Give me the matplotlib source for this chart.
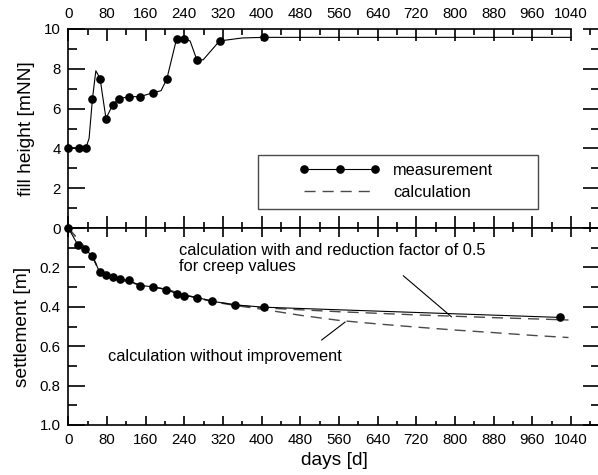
import matplotlib
matplotlib.use("Agg")
import matplotlib.pyplot as plt
from matplotlib.ticker import MultipleLocator, FixedLocator, FixedFormatter
from matplotlib.patches import Rectangle

plt.rcParams['font.family'] = ['Liberation Sans', 'DejaVu Sans']

# fill height, measured points
fill_days = [0, 22, 36, 50, 66, 78, 92, 105, 126, 148, 176, 204, 224, 240, 266, 313, 404]
fill_vals = [4.0, 4.0, 4.0, 6.5, 7.5, 5.5, 6.2, 6.5, 6.6, 6.6, 6.8, 7.5, 9.5, 9.5, 8.45, 9.4, 9.6]
# fill height, drawn line
fill_line_days = [0, 36, 43, 50, 57, 66, 70, 78, 92, 105, 126, 148, 176, 192, 204, 214,
                  224, 240, 252, 266, 279, 313, 360, 404, 1040]
fill_line_vals = [4.0, 4.0, 4.5, 6.5, 7.9, 7.5, 6.8, 5.5, 6.2, 6.5, 6.6, 6.6, 6.8, 6.9, 7.5, 8.5,
                  9.5, 9.5, 9.4, 8.45, 8.45, 9.4, 9.55, 9.58, 9.58]

# settlement, measured
settle_days = [0, 20, 35, 50, 65, 78, 92, 106, 125, 148, 175, 203, 225, 240, 267, 298, 344, 404, 1018]
settle_vals = [0, 0.087, 0.108, 0.144, 0.224, 0.238, 0.25, 0.26, 0.266, 0.292, 0.298, 0.313,
               0.334, 0.343, 0.353, 0.372, 0.39, 0.402, 0.454]

# calculations
calc_days = [0, 50, 65, 100, 150, 200, 250, 300, 350, 400, 480, 560, 640, 720, 800, 880, 960, 1035]
calc_red_vals = [0, 0.144, 0.224, 0.257, 0.29, 0.31, 0.345, 0.372, 0.392, 0.405, 0.415, 0.425,
                 0.433, 0.441, 0.448, 0.455, 0.461, 0.467]
calc_none_vals = [0, 0.144, 0.224, 0.257, 0.29, 0.31, 0.345, 0.375, 0.395, 0.412, 0.443, 0.469,
                  0.487, 0.503, 0.518, 0.531, 0.545, 0.556]

# annotation texts and leaders (days, settlement)
note_red = "calculation with and reduction factor of 0.5\nfor creep values"
note_red_xy = (229, 0.156)
lead_red = [(693, 0.242), (793, 0.451)]
note_none = "calculation without improvement"
note_none_xy = (83, 0.653)
lead_none = [(524, 0.569), (573, 0.477)]

W, H = 598, 475
fig = plt.figure(figsize=(W / 100, H / 100), dpi=100)
left, right = 68.3, 600.0
ax1 = fig.add_axes([left / W, (H - 228) / H, (right - left) / W, (228 - 29) / H])
ax2 = fig.add_axes([left / W, (H - 425) / H, (right - left) / W, (425 - 228) / H], sharex=ax1)

xmax = (right - left) / (502.6 / 1040)
gray = '#4a4a4a'

# top panel
ax1.plot(fill_line_days, fill_line_vals, color='black', lw=0.8, clip_on=False)
ax1.plot(fill_days, fill_vals, 'o', color='black', ms=5.2, clip_on=False, zorder=5)
ax1.set_xlim(0, xmax)
ax1.set_ylim(0, 10)
ax1.set_ylabel("fill height [mNN]", fontsize=13.8, labelpad=6)

# bottom panel
ax2.plot(calc_days, calc_red_vals, color=gray, lw=1.0, dashes=(8, 5))
ax2.plot(calc_days, calc_none_vals, color=gray, lw=1.0, dashes=(8, 5))
ax2.plot(settle_days, settle_vals, '-o', color='black', lw=0.8, ms=5.2, clip_on=False, zorder=5)
ax2.set_ylim(1.0, 0)
ax2.set_xlabel("days [d]", fontsize=13.8, labelpad=4)
ax2.set_ylabel("settlement [m]", fontsize=13.8, labelpad=6)

ax2.text(*note_red_xy, note_red, fontsize=11.8, va='center', ha='left', linespacing=1.05)
ax2.text(*note_none_xy, note_none, fontsize=11.8, va='center', ha='left')
ax2.annotate('', xy=lead_red[1], xytext=lead_red[0],
             arrowprops=dict(arrowstyle='-', lw=0.8, color='black', shrinkA=0, shrinkB=0))
ax2.annotate('', xy=lead_none[1], xytext=lead_none[0],
             arrowprops=dict(arrowstyle='-', lw=0.8, color='black', shrinkA=0, shrinkB=0))

# axes styling
for ax in (ax1, ax2):
    for sp in ax.spines.values():
        sp.set_linewidth(1.2)
    ax.xaxis.set_major_locator(MultipleLocator(80))
    ax.xaxis.set_minor_locator(MultipleLocator(40))
    ax.tick_params(axis='both', which='both', direction='in', width=1.2,
                   labelsize=10.8, pad=5.5)
    ax.tick_params(axis='y', which='major', length=12.5, left=True, right=True)
    ax.tick_params(axis='y', which='minor', length=6.5, left=True, right=True)
    ax.tick_params(axis='x', which='major', length=6.5)
    ax.tick_params(axis='x', which='minor', length=3.2)

ax1.spines['top'].set_bounds(0, 1040)
ax1.tick_params(axis='x', which='both', top=True, bottom=True, labeltop=True, labelbottom=False)
ax1.tick_params(axis='x', which='major', top=True, length=8.8)
ax1.tick_params(axis='x', which='minor', length=4.2)
ax1.yaxis.set_major_locator(MultipleLocator(2))
ax1.yaxis.set_minor_locator(MultipleLocator(1))

ax2.tick_params(axis='x', which='both', top=True, bottom=True, labelbottom=True, labeltop=False)
ax2.yaxis.set_major_locator(FixedLocator([0, 0.2, 0.4, 0.6, 0.8, 1.0]))
ax2.yaxis.set_major_formatter(FixedFormatter(['', '0.2', '0.4', '0.6', '0.8', '1.0']))
ax2.yaxis.set_minor_locator(FixedLocator([0.1, 0.3, 0.5, 0.7, 0.9]))

# legend
ax1.add_patch(Rectangle((0.3573, 0.094), 0.5255, 0.2728, transform=ax1.transAxes,
                        fill=False, edgecolor=gray, lw=1.0, zorder=4))
h_meas, = ax1.plot([], [], '-o', color='black', lw=0.8, ms=5.2)
h_calc, = ax1.plot([], [], color=gray, lw=1.0, dashes=(8, 5))
ax1.legend([h_meas, h_calc], ["measurement", "calculation"], loc='center',
           bbox_to_anchor=(0.617, 0.2337), frameon=False, numpoints=3,
           handlelength=4.95, handletextpad=0.8, labelspacing=0.4, borderpad=0,
           fontsize=11.8)

fig.savefig("out.png", dpi=100)
